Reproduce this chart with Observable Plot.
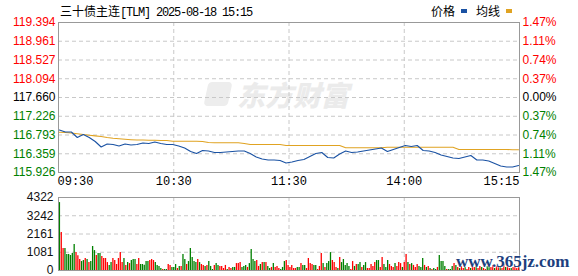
<!DOCTYPE html>
<html><head><meta charset="utf-8">
<script src="https://cdn.jsdelivr.net/npm/d3@7"></script>
<script src="https://cdn.jsdelivr.net/npm/@observablehq/plot@0.6"></script>
<style>
body{margin:0;background:#fff;}
#wrap{position:relative;width:578px;height:276px;overflow:hidden;background:#fff;font-family:"Liberation Sans",Arial,sans-serif;}
#wrap svg{position:absolute;left:0;background:transparent;}
.title{position:absolute;left:60px;top:2px;font-size:12px;color:#000;white-space:nowrap;}
.title .cjk{font-family:"Noto Sans CJK SC";}
.title .mono{font-family:"Liberation Mono";letter-spacing:-1.2px;}
.legend{position:absolute;top:2px;left:431px;font-size:12px;font-family:"Noto Sans CJK SC";white-space:nowrap;color:#000;}
.sw{display:inline-block;width:6px;height:4px;vertical-align:middle;margin:0 9px 0 6px;position:relative;top:-2px;}
.wm{position:absolute;left:237px;top:74px;font-family:"Noto Sans CJK SC";font-weight:900;font-style:italic;font-size:28px;color:#ebebeb;letter-spacing:0px;white-space:nowrap;}
.logo{position:absolute;left:206px;top:82px;width:24px;height:24px;background:#ededed;border-radius:4px;transform:skewX(-12deg);}
.site{position:absolute;left:456px;top:252px;font-family:"Liberation Serif";font-weight:bold;font-size:17px;color:#1d3f7e;white-space:nowrap;text-shadow:0 0 2px #fff,0 0 2px #fff;}
</style></head><body><div id="wrap"></div>
<script>
const titleName = "三十债主连";
const titleCode = "[TLM] 2025-08-18 15:15";
const legendLabels = ["价格", "均线"];
const timeLabels = ["09:30", "10:30", "11:30", "14:00", "15:15"];
const priceTicks = [119.394, 118.961, 118.527, 118.094, 117.660, 117.226, 116.793, 116.359, 115.926];
const pctLabels = ["1.47%", "1.11%", "0.74%", "0.37%", "0.00%", "0.37%", "0.74%", "1.11%", "1.47%"];
const volTicks = [0, 1081, 2161, 3242, 4322];

const prices = [116.909,116.862,116.862,116.735,116.805,116.735,116.643,116.516,116.585,116.573,
116.539,116.585,116.562,116.573,116.608,116.597,116.631,116.597,116.573,116.573,
116.539,116.492,116.412,116.365,116.435,116.423,116.388,116.388,116.400,116.412,
116.423,116.423,116.365,116.284,116.238,116.215,116.215,116.203,116.146,116.169,
116.203,116.227,116.296,116.365,116.388,116.273,116.261,116.354,116.423,116.388,
116.400,116.423,116.446,116.469,116.492,116.412,116.458,116.504,116.550,116.527,
116.550,116.435,116.423,116.388,116.331,116.296,116.261,116.250,116.284,116.319,
116.215,116.215,116.192,116.134,116.076,116.053,116.053,116.088];

const avgPrices = [116.858,116.851,116.839,116.821,116.805,116.788,116.772,116.758,116.735,116.717,
116.705,116.694,116.684,116.677,116.677,116.673,116.673,116.666,116.666,116.650,
116.650,116.650,116.650,116.650,116.643,116.620,116.613,116.613,116.613,116.613,
116.613,116.597,116.573,116.573,116.573,116.573,116.573,116.573,116.550,116.550,
116.550,116.550,116.550,116.550,116.550,116.550,116.550,116.550,116.497,116.497,
116.497,116.497,116.497,116.497,116.497,116.511,116.511,116.511,116.511,116.511,
116.511,116.511,116.511,116.511,116.511,116.511,116.511,116.458,116.458,116.458,
116.458,116.458,116.458,116.458,116.458,116.458,116.451,116.451];

const volumes = [
4020,2250,1300,1300,950,950,890,1000,1540,1060,870,650,530,590,710,650,470,530,1420,1180,
890,1000,1000,830,710,710,470,300,470,710,590,355,710,1060,470,710,300,470,410,590,
650,650,355,710,355,355,315,530,530,590,650,590,470,300,240,120,60,60,60,355,300,180,180,
355,120,240,240,950,650,355,530,1300,770,530,470,650,470,355,300,240,300,530,240,
60,300,410,300,240,240,120,300,60,180,120,180,180,410,410,470,180,240,300,180,
410,1240,650,530,590,240,355,470,470,470,240,120,180,410,180,240,120,60,180,530,590,300,180,
300,120,120,180,180,410,300,300,120,710,410,355,300,300,60,240,1000,410,180,410,
530,1060,590,470,180,120,770,470,650,300,410,240,60,530,240,355,355,470,180,300,
470,120,120,355,240,470,590,590,180,770,355,180,590,355,240,180,410,240,470,410,180,470,950,470,355,
410,300,180,355,240,180,710,300,180,240,120,60,120,60,180,890,530,530,240,60,60,60,240,410,300,
180,120,240,120,180,60,180,120,240,180,300,120,240,180,120,60,240,470,180,300,
120,240,180,240,120,355,180,240,120,120,180,240,120,300];

const volDir =
"grrgggggg"+"rrr"+"gg"+"r"+"g"+"r"+"ggg"+"r"+"gg"+"rrrr"+"gg"+"rrrrrr"+"g"+"r"+"g"+"r"+"ggg"+"rr"+"ggggg"+"rrr"+"gggg"+"r"+"gg"+"rr"+"gg"+
"grgrggr"+"ggggg"+"rgrr"+"gr"+"ggg"+"r"+"gg"+"rrrr"+"g"+"rr"+"gg"+"rrr"+"ggg"+"r"+"gggg"+"rr"+"grgr"+"gg"+"rg"+"rrr"+"ggg"+"rrr"+
"rrr"+"gg"+"r"+"gg"+"rrrr"+"gg"+"rrr"+"g"+"r"+"ggg"+"rrr"+"g"+"r"+"ggggg"+"rr"+"g"+"r"+"gg"+"r"+"gg"+"rrrrr"+"gg"+"rr"+"ggg"+"rrr"+"g"+"rrr"+"g"+"rr"+"g"+"r"+
"grrrgggrgrgrggrggggrgggrg"+
"rgrrgrrgrrgrrgrrggrrgrrgrrgrrgrrrr";

const RED = "#ff0000", GREEN = "#008000", BLUE = "#1a52a3", GOLD = "#e0a322";
const W = 578, ML = 58, MR = 59;
const N = volumes.length, M = prices.length;
const xDomain = [-0.5, N - 0.5];
const xTicks = timeLabels.map((t, i) => ({t, x: -0.5 + i * N / 4, i}));
const ref = priceTicks[4];
const col = v => v > ref + 1e-9 ? RED : v < ref - 1e-9 ? GREEN : "#000";
const pData = prices.map((p, k) => ({x: k * (N - 1) / (M - 1), p, a: avgPrices[k]}));
const grid = {stroke: "#c8c8c8", strokeOpacity: 1, strokeDasharray: "4,3"};
const mono = {fontFamily: "Liberation Mono", fontSize: 12};

const wrap = document.getElementById("wrap");

const p1 = Plot.plot({
  width: W, height: 190, marginTop: 22, marginBottom: 18, marginLeft: ML, marginRight: MR,
  style: {fontFamily: "Liberation Sans", fontSize: "12px", background: "transparent"},
  x: {domain: xDomain, axis: null},
  y: {domain: [priceTicks[8], priceTicks[0]], axis: null},
  color: {type: "identity"},
  marks: [
    Plot.gridY(priceTicks.slice(1, -1), grid),
    Plot.gridX(xTicks.slice(1, -1).map(d => d.x), grid),
    Plot.line(pData, {x: "x", y: "a", stroke: GOLD, strokeWidth: 1.1}),
    Plot.line(pData, {x: "x", y: "p", stroke: BLUE, strokeWidth: 1.1}),
    Plot.frame({stroke: "#999"}),
    Plot.text(priceTicks, {y: d => d, frameAnchor: "left", text: d => d.toFixed(3), fill: d => col(d), textAnchor: "end", dx: -3, fontSize: 12}),
    Plot.text(priceTicks.map((v, i) => ({v, t: pctLabels[i]})), {y: "v", frameAnchor: "right", text: "t", fill: d => col(d.v), textAnchor: "start", dx: 3, fontSize: 12}),
    Plot.text(xTicks.filter(d => d.i === 0), {x: "x", frameAnchor: "bottom", text: "t", textAnchor: "start", lineAnchor: "top", dy: 4, dx: -1, fill: "#000", ...mono}),
    Plot.text(xTicks.filter(d => d.i > 0 && d.i < 4), {x: "x", frameAnchor: "bottom", text: "t", textAnchor: "middle", lineAnchor: "top", dy: 4, fill: "#000", ...mono}),
    Plot.text(xTicks.filter(d => d.i === 4), {x: "x", frameAnchor: "bottom", text: "t", textAnchor: "end", lineAnchor: "top", dy: 4, fill: "#000", ...mono})
  ]
});
p1.style.top = "0px";

const vData = volumes.map((v, i) => ({i, v, c: volDir[i] === "r" ? RED : GREEN}));
const p2 = Plot.plot({
  width: W, height: 86, marginTop: 7, marginBottom: 6, marginLeft: ML, marginRight: MR,
  style: {fontFamily: "Liberation Sans", fontSize: "12px", background: "transparent"},
  x: {domain: xDomain, axis: null},
  y: {domain: [volTicks[0], volTicks[4]], axis: null},
  color: {type: "identity"},
  marks: [
    Plot.gridY(volTicks.slice(1, -1), grid),
    Plot.gridX(xTicks.slice(1, -1).map(d => d.x), grid),
    Plot.ruleX(vData, {x: "i", y1: 0, y2: "v", stroke: "c", strokeWidth: 1.3}),
    Plot.frame({stroke: "#999"}),
    Plot.text(volTicks, {y: d => d, frameAnchor: "left", text: d => String(d), textAnchor: "end", dx: -5, fill: "#111", fontSize: 12})
  ]
});
p2.style.top = "190px";

wrap.innerHTML = `<div class="logo"></div><div class="wm">东方财富</div>`;
wrap.appendChild(p1);
wrap.appendChild(p2);
const t = document.createElement("div");
t.className = "title";
t.innerHTML = `<span class="cjk">${titleName}</span><span class="mono">${titleCode}</span>`;
wrap.appendChild(t);
const lg = document.createElement("div");
lg.className = "legend";
lg.innerHTML = `${legendLabels[0]}<span class="sw" style="background:${BLUE}"></span>${legendLabels[1]}<span class="sw" style="background:${GOLD}"></span>`;
wrap.appendChild(lg);
const site = document.createElement("div");
site.className = "site";
site.textContent = "www.365jz.com";
wrap.appendChild(site);
</script></body></html>
